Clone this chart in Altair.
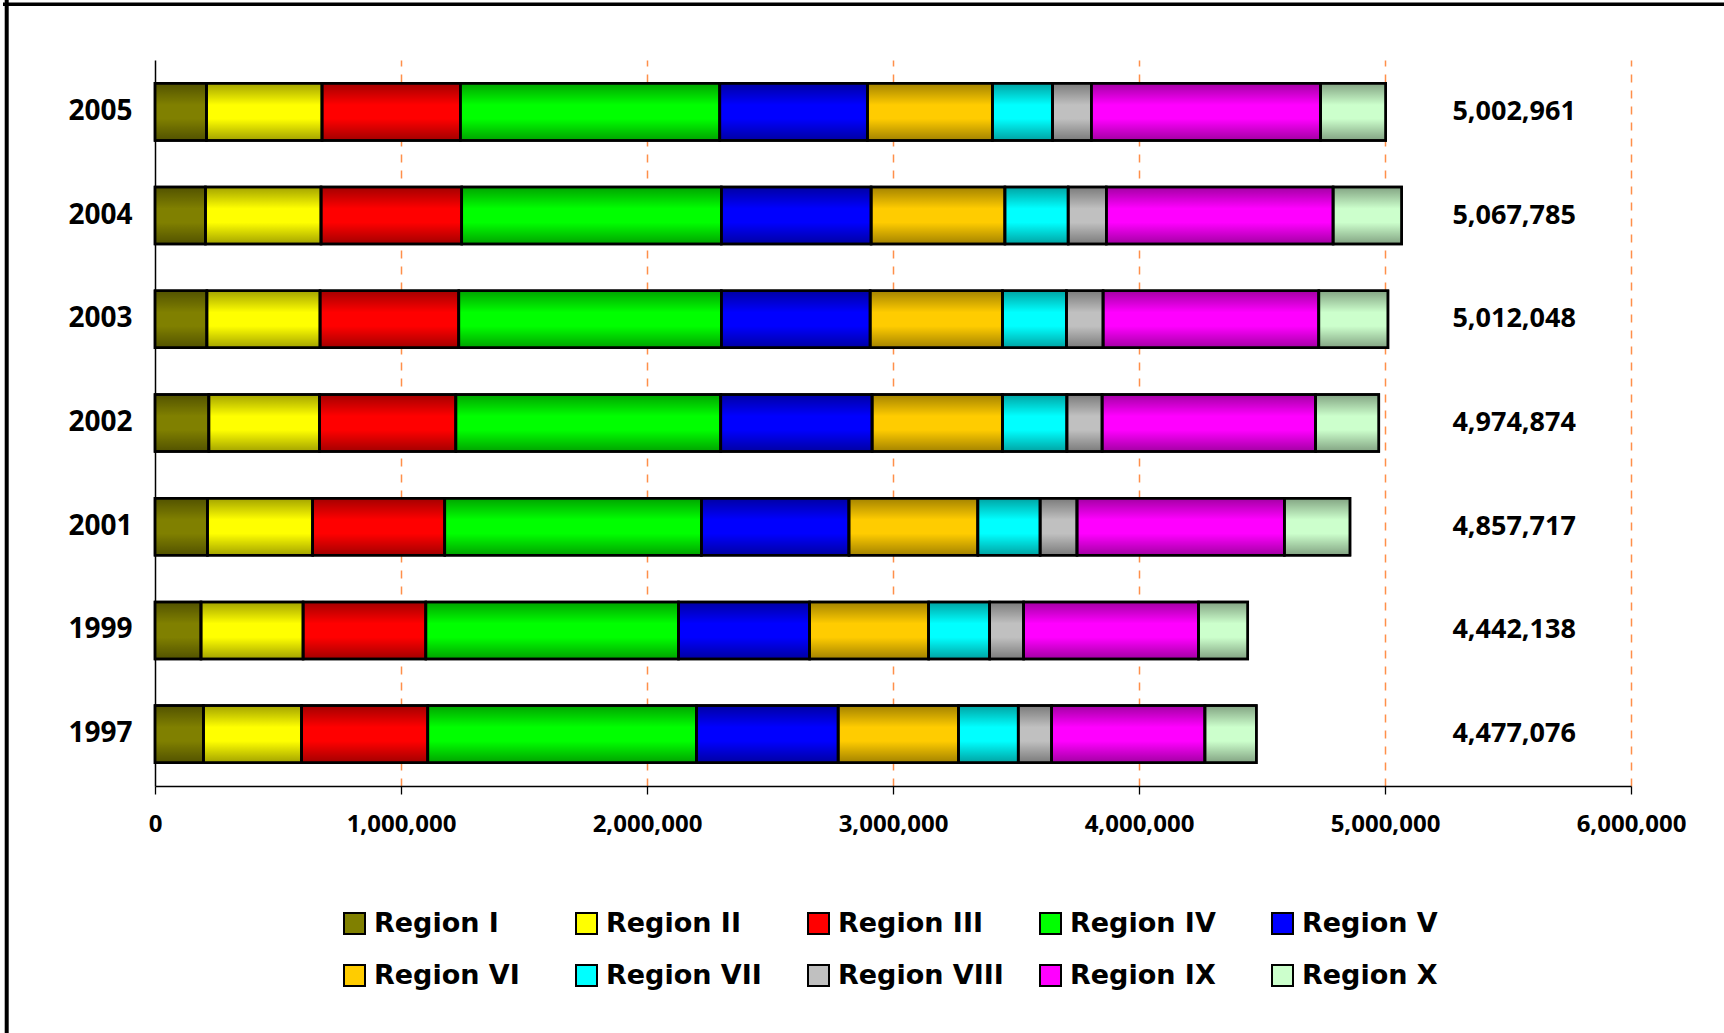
import altair as alt
import pandas as pd

# Years shown top to bottom
years = ["2005", "2004", "2003", "2002", "2001", "1999", "1997"]

regions = ["Region I", "Region II", "Region III", "Region IV", "Region V",
           "Region VI", "Region VII", "Region VIII", "Region IX", "Region X"]
region_colors = ["#808000", "#FFFF00", "#FF0000", "#00FF00", "#0000FF",
                 "#FFCC00", "#00FFFF", "#C0C0C0", "#FF00FF", "#CCFFCC"]

# Values per region, in the same order as `years`
region_I = [209000, 205000, 211000, 219000, 213000, 187000, 197000]
region_II = [470000, 470000, 460000, 450000, 428000, 415000, 399000]
region_III = [562000, 572000, 564000, 554000, 537000, 499000, 513000]
region_IV = [1055000, 1055000, 1067000, 1077000, 1043000, 1027000, 1092000]
region_V = [600000, 609000, 605000, 615000, 600000, 533000, 576000]
region_VI = [508000, 544000, 538000, 530000, 524000, 484000, 489000]
region_VII = [245000, 257000, 260000, 262000, 253000, 248000, 243000]
region_VIII = [157000, 155000, 149000, 143000, 150000, 138000, 136000]
region_IX = [932000, 922000, 877000, 868000, 843000, 711000, 623000]
region_X = [264961, 278785, 281048, 256874, 266717, 200138, 209076]

x_ticks = [0, 1000000, 2000000, 3000000, 4000000, 5000000, 6000000]
total_label_x = 5525000

series = [region_I, region_II, region_III, region_IV, region_V,
          region_VI, region_VII, region_VIII, region_IX, region_X]

rows = []
for r_idx, (name, vals) in enumerate(zip(regions, series)):
    for year, v in zip(years, vals):
        rows.append({"year": year, "region": name, "idx": r_idx, "value": v})
df = pd.DataFrame(rows)

x_scale = alt.Scale(domain=[0, 6000000], nice=False, zero=True)
x_axis = alt.Axis(
    title=None,
    values=x_ticks,
    labelExpr="format(datum.value, ',')",
    labelFlush=False,
    grid=True,
    gridColor={"condition": {"test": "datum.value === 0", "value": "transparent"},
               "value": "#FF8F4A"},
    gridDash=[8, 8],
    gridWidth=1.5,
    tickSize=8,
    tickColor="black",
    tickWidth=1.3,
    domainColor="black",
    domainWidth=1.3,
    labelFont="Open Sans",
    labelFontWeight="bold",
    labelFontSize=24,
    labelColor="black",
    labelPadding=18,
)
x_enc = alt.X("value:Q", stack="zero", scale=x_scale, axis=x_axis)

y_enc = alt.Y(
    "year:N",
    sort=years,
    scale=alt.Scale(paddingInner=0.45, paddingOuter=0.225),
    axis=alt.Axis(
        title=None,
        ticks=False,
        domainColor="black",
        domainWidth=1.5,
        labelFont="Open Sans",
        labelFontWeight="bold",
        labelFontSize=28,
        labelColor="black",
        labelPadding=23,
    ),
)

base = alt.Chart(df)

bars = base.mark_bar(stroke="black", strokeWidth=2.5).encode(
    x=x_enc,
    y=y_enc,
    color=alt.Color(
        "region:N",
        scale=alt.Scale(domain=regions, range=region_colors),
        legend=alt.Legend(
            title=None,
            orient="none",
            legendX=186,
            legendY=850,
            direction="horizontal",
            columns=5,
            gridAlign="all",
            columnPadding=32,
            rowPadding=23,
            padding=0,
            symbolType="square",
            symbolSize=441,
            symbolStrokeColor="black",
            symbolStrokeWidth=2,
            symbolOpacity=1,
            labelFont="DejaVu Sans",
            labelFontWeight="bold",
            labelFontSize=27,
            labelColor="black",
            labelOffset=6,
            labelLimit=400,
        ),
    ),
    order=alt.Order("idx:Q"),
)

# Cylinder-like shading laid over each segment
shade = base.mark_bar(
    color=alt.LinearGradient(
        gradient="linear",
        x1=0, x2=0, y1=0, y2=1,
        stops=[
            alt.GradientStop(color="rgba(0,0,0,0.36)", offset=0),
            alt.GradientStop(color="rgba(0,0,0,0)", offset=0.38),
            alt.GradientStop(color="rgba(0,0,0,0)", offset=0.62),
            alt.GradientStop(color="rgba(0,0,0,0.36)", offset=1),
        ],
    ),
    stroke="black",
    strokeWidth=2.5,
).encode(
    x=x_enc,
    y=y_enc,
    detail="region:N",
    order=alt.Order("idx:Q"),
)

totals = base.mark_text(
    font="Open Sans", fontWeight="bold", fontSize=27, color="black",
    align="center", baseline="middle",
).transform_aggregate(
    total="sum(value)", groupby=["year"]
).encode(
    x=alt.XDatum(total_label_x, type="quantitative", scale=x_scale, axis=x_axis),
    y=y_enc,
    text=alt.Text("total:Q", format=","),
)

# Outer frame (left and top edges)
frame_df = pd.DataFrame({"k": [0]})
frame_left = alt.Chart(frame_df).mark_rule(color="black", strokeWidth=4).encode(
    x=alt.value(-148.3), y=alt.value(-60), y2=alt.value(1000)
)
frame_top = alt.Chart(frame_df).mark_rule(color="black", strokeWidth=3.5).encode(
    x=alt.value(-152), x2=alt.value(1600), y=alt.value(-55.7)
)

chart = alt.layer(bars, shade, totals, frame_left, frame_top).properties(
    width=1476,
    height=726,
    autosize="none",
    padding={"left": 155, "top": 60, "right": 93, "bottom": 247},
    background="white",
).configure_view(strokeWidth=0)

chart.save("out.html", embed_options={"renderer": "svg", "actions": False})
